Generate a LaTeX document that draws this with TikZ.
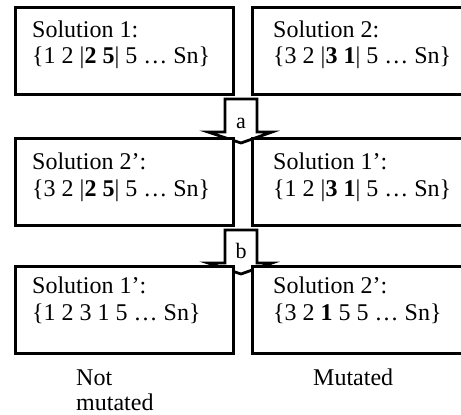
\documentclass[tikz,border=0pt]{standalone}
\usepackage{fontspec}
\setmainfont{Liberation Serif}
\usetikzlibrary{calc}
\begin{document}
\begin{tikzpicture}[x=1pt,y=-1pt,
  box/.style={draw, line width=2.8pt, fill=white, anchor=north west, inner sep=0pt, minimum height=87pt},
  lbox/.style={box, minimum width=218pt},
  rbox/.style={box, minimum width=240pt},
  txt/.style={anchor=base west, inner sep=0pt, font=\fontsize{24}{26}\selectfont},
  alabel/.style={anchor=base, inner sep=0pt, font=\fontsize{22}{24}\selectfont},
  blockarrow/.style={draw, line width=2.8pt, fill=white, line join=miter}]
\clip (0,0) rectangle (461,415);
\fill[white] (0,0) rectangle (461,415);
% block arrows
\coordinate (atop) at (241,99);
\coordinate (btop) at (241,230);
\foreach \c in {atop,btop}{
  \path[blockarrow] ($(\c)+(-16,0)$) -- ($(\c)+(16,0)$) -- ($(\c)+(16,33)$) -- ($(\c)+(31,33)$)
    -- ($(\c)+(0,44)$) -- ($(\c)+(-33,33)$) -- ($(\c)+(-16,33)$) -- cycle;
}
\node[alabel] (la) at (241,128) {a};
\node[alabel] (lb) at (241,258) {b};
% boxes
\node[lbox] (b11) at (14,6) {};
\node[rbox] (b12) at (251,6) {};
\node[lbox] (b21) at (14,137) {};
\node[rbox] (b22) at (251,137) {};
\node[lbox] (b31) at (14,265) {};
\node[rbox] (b32) at (251,265) {};
% texts
\node[txt] (t11a) at (32,37) {Solution 1:};
\node[txt] (t11b) at (32,63) {\{1 2 |\textbf{2 5}| 5 … Sn\}};
\node[txt] (t12a) at (273,37) {Solution 2:};
\node[txt] (t12b) at (273,63) {\{3 2 |\textbf{3 1}| 5 … Sn\}};
\node[txt] (t21a) at (32,169) {Solution 2’:};
\node[txt] (t21b) at (32,196) {\{3 2 |\textbf{2 5}| 5 … Sn\}};
\node[txt] (t22a) at (273,169) {Solution 1’:};
\node[txt] (t22b) at (273,196) {\{1 2 |\textbf{3 1}| 5 … Sn\}};
\node[txt] (t31a) at (32,293) {Solution 1’:};
\node[txt] (t31b) at (32,320) {\{1 2 3 1 5 … Sn\}};
\node[txt] (t32a) at (273,293) {Solution 2’:};
\node[txt] (t32b) at (273,320) {\{3 2 \textbf{1} 5 5 … Sn\}};
\node[txt] (n1) at (76,385) {Not};
\node[txt] (n2) at (76,410) {mutated};
\node[txt] (m1) at (313,385) {Mutated};
\end{tikzpicture}
\end{document}
